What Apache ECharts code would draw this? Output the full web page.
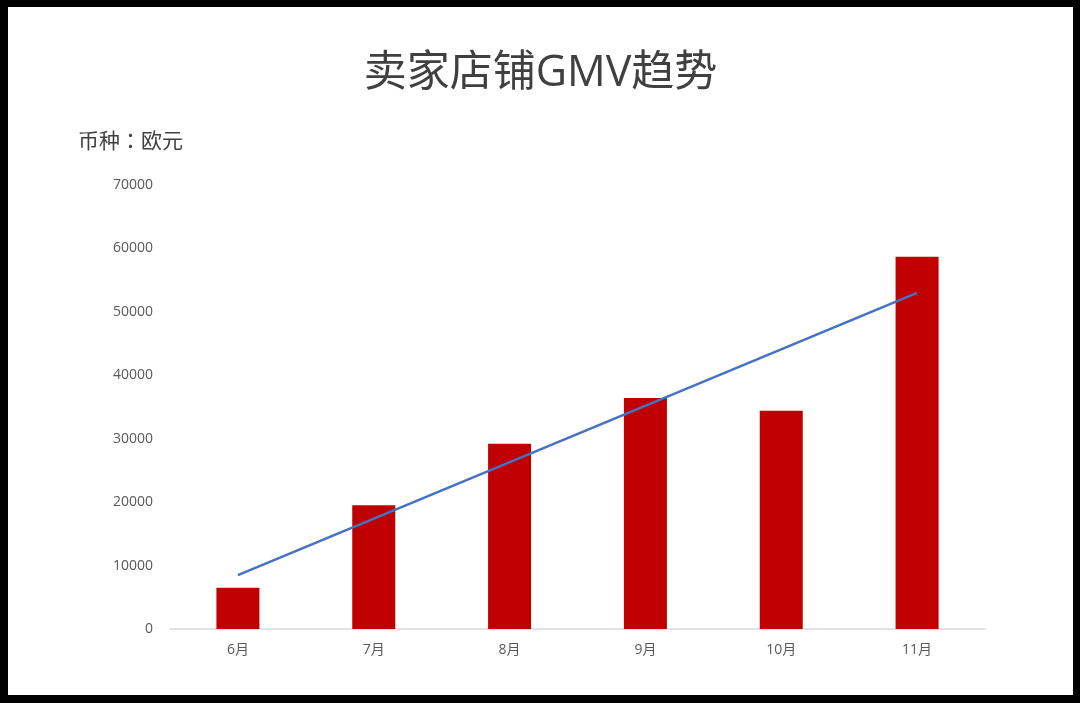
<!DOCTYPE html>
<html>
    <head>
        <meta charset="utf-8">
        <title>卖家店铺GMV趋势</title>
        <script src="https://cdn.jsdelivr.net/npm/echarts@6/dist/echarts.min.js"></script>
        <style>
            html, body { margin: 0; padding: 0; background: #000; }
            #chart1 { position: absolute; left: 8px; top: 7px; width: 1065px; height: 688px; background: #fff; }
        </style>
    </head>
    <body>
        <!-- 图表容器 -->
        <div id="chart1"></div>
        <script type="text/javascript">
            // 数据
            var months = ['6月', '7月', '8月', '9月', '10月', '11月'];
            var gmv = [6500, 19500, 29200, 36400, 34400, 58700];
            // 趋势线只取首尾两点，中间留空
            var trend = [8500, null, null, null, null, 53000];

            var font = '"Open Sans", "Noto Sans CJK SC", sans-serif';
            var myChart1 = echarts.init(document.getElementById('chart1'));

            myChart1.setOption({
                animation: false,
                title: [
                    {
                        text: '卖家店铺GMV趋势',
                        left: 'center',
                        top: 40,
                        textStyle: { fontSize: 43, fontWeight: 'normal', color: '#404040', fontFamily: font }
                    },
                    {
                        text: '币种：欧元',
                        left: 65,
                        top: 118,
                        textStyle: { fontSize: 21, fontWeight: 'normal', color: '#404040', fontFamily: '"Noto Sans CJK TC", sans-serif' }
                    }
                ],
                grid: { left: 162, right: 88, top: 178, bottom: 66 },
                xAxis: {
                    type: 'category',
                    data: months,
                    axisLine: { lineStyle: { color: '#d9d9d9', width: 1.5 } },
                    axisTick: { show: false },
                    axisLabel: { color: '#595959', fontSize: 14, margin: 14, fontFamily: font }
                },
                yAxis: {
                    type: 'value',
                    min: 0,
                    max: 70000,
                    interval: 10000,
                    axisLine: { show: false },
                    axisTick: { show: false },
                    splitLine: { show: false },
                    axisLabel: {
                        color: '#595959', fontSize: 14, margin: 17, fontFamily: font,
                        formatter: function (v) { return String(v); }
                    }
                },
                series: [
                    {
                        name: 'GMV',
                        type: 'bar',
                        data: gmv,
                        barWidth: 43,
                        itemStyle: { color: '#c00000' }
                    },
                    {
                        name: '趋势',
                        type: 'line',
                        data: trend,
                        connectNulls: true,
                        showSymbol: false,
                        symbol: 'none',
                        lineStyle: { color: '#4472c4', width: 2.5 },
                        z: 3
                    }
                ]
            });
        </script>
    </body>
</html>
